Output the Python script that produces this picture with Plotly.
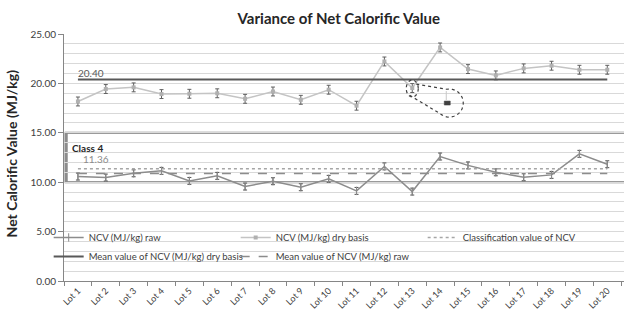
import numpy as np
import plotly.graph_objects as go

lots = [f"Lot {i}" for i in range(1, 21)]
lot_idx = list(range(1, 21))
ncv_raw = [10.57, 10.47, 10.90, 11.15, 10.13, 10.64, 9.56, 10.10, 9.49, 10.34,
           9.12, 11.60, 9.05, 12.60, 11.70, 11.00, 10.50, 10.74, 12.87, 11.82]
err_raw = [0.35] * 20
ncv_dry = [18.17, 19.43, 19.60, 18.92, 18.95, 19.00, 18.44, 19.18, 18.34, 19.36,
           17.74, 22.22, 19.53, 23.64, 21.45, 20.81, 21.52, 21.79, 21.38, 21.38]
err_dry = [0.45] * 20
mean_dry = 20.40
mean_raw = 10.87
class_value = 11.36
class4_range = [10, 15]
y_ticks = [0, 5, 10, 15, 20, 25]

FONT = "Lato"
fig = go.Figure()

fig.add_trace(go.Scatter(
    x=lot_idx, y=ncv_raw, name="NCV (MJ/kg) raw", mode="lines+markers",
    line=dict(color="#8c8c8c", width=1.5),
    marker=dict(symbol="line-ns-open", size=6, line=dict(color="#404040", width=1)),
    error_y=dict(type="data", array=err_raw, color="#505050", thickness=1, width=2)))
fig.add_trace(go.Scatter(
    x=lot_idx, y=ncv_dry, name="NCV (MJ/kg) dry basis", mode="lines+markers",
    line=dict(color="#c4c4c4", width=1.5),
    marker=dict(symbol="square", size=4, color="#b0b0b0"),
    error_y=dict(type="data", array=err_dry, color="#606060", thickness=1, width=2)))
fig.add_trace(go.Scatter(
    x=lot_idx, y=[class_value] * 20, name="Classification value of NCV", mode="lines",
    line=dict(color="#a6a6a6", width=1.5, dash="dot")))
fig.add_trace(go.Scatter(
    x=lot_idx, y=[mean_dry] * 20, name="Mean value of NCV (MJ/kg) dry basis", mode="lines",
    line=dict(color="#595959", width=2)))
fig.add_trace(go.Scatter(
    x=lot_idx, y=[mean_raw] * 20, name="Mean value of NCV (MJ/kg) raw", mode="lines",
    line=dict(color="#8c8c8c", width=1.5, dash="dash")))

shapes = []
# legend background hiding gridlines
shapes.append(dict(type="rect", xref="paper", yref="y", x0=0.003, x1=1, y0=1.45, y1=5.9,
                   fillcolor="white", line=dict(width=0), layer="between"))
# class 4 band
shapes.append(dict(type="rect", xref="paper", yref="y", x0=0.003, x1=1.01,
                   y0=class4_range[0], y1=class4_range[1],
                   line=dict(color="#7a7a7a", width=2), layer="between"))
shapes.append(dict(type="line", xref="paper", yref="y", x0=0.004, x1=0.004,
                   y0=class4_range[0], y1=class4_range[1],
                   line=dict(color="#8c8c8c", width=3), layer="between"))

# callout around Lot 13 dry-basis point
anchor_x, anchor_y = 13, ncv_dry[12]
cx, cy, R = 37, -15, 14
ang = np.radians(np.linspace(100, -130, 40))
pts = [(4, 4)] + [(cx + R * np.cos(a), cy + R * np.sin(a)) for a in ang] + [(-3, -7)]
path = "M " + " L ".join(f"{px:.1f},{py:.1f}" for px, py in pts)
shapes.append(dict(type="path", path=path, xref="x", yref="y",
                   xsizemode="pixel", ysizemode="pixel", xanchor=anchor_x, yanchor=anchor_y,
                   line=dict(color="#404040", width=1.2, dash="dot")))
shapes.append(dict(type="circle", xref="x", yref="y", xsizemode="pixel", ysizemode="pixel",
                   xanchor=anchor_x, yanchor=anchor_y, x0=-6, x1=6, y0=-9, y1=8,
                   line=dict(color="#404040", width=1.2, dash="dot")))
shapes.append(dict(type="line", xref="x", yref="y", xsizemode="pixel", ysizemode="pixel",
                   xanchor=anchor_x, yanchor=anchor_y, x0=34, x1=34, y0=-3, y1=-12,
                   line=dict(color="#c8c8c8", width=1)))
shapes.append(dict(type="rect", xref="x", yref="y", xsizemode="pixel", ysizemode="pixel",
                   xanchor=anchor_x, yanchor=anchor_y, x0=32, x1=38, y0=-17, y1=-13,
                   fillcolor="#404040", line=dict(color="#404040", width=0.5)))

annotations = [
    dict(text="<b>Net Calorific Value (MJ/kg)</b>", xref="paper", yref="paper", x=-0.094, y=0.518,
         textangle=-90, showarrow=False, font=dict(family=FONT, size=14, color="#262626"),
         xanchor="center", yanchor="middle"),
    dict(text=f"{mean_dry:.2f}", xref="x", yref="y", x=0.93, y=21.08, showarrow=False,
         xanchor="left", yanchor="middle", font=dict(family=FONT, size=10, color="#595959")),
    dict(text="<b>Class 4</b>", xref="x", yref="y", x=0.71, y=13.5, showarrow=False,
         xanchor="left", yanchor="middle", font=dict(family=FONT, size=10, color="#262626")),
    dict(text=f"{class_value:.2f}", xref="x", yref="y", x=1.11, y=12.35, showarrow=False,
         xanchor="left", yanchor="middle", font=dict(family=FONT, size=10, color="#8c8c8c")),
]

fig.update_layout(
    width=624, height=312,
    margin=dict(l=64, r=0, t=34, b=31, autoexpand=False),
    paper_bgcolor="white", plot_bgcolor="white",
    title=dict(text="<b>Variance of Net Calorific Value</b>", xref="container", yref="container",
               x=0.543, y=0.939, xanchor="center", yanchor="middle",
               font=dict(family=FONT, size=15, color="#262626")),
    font=dict(family=FONT, size=10, color="#404040"),
    showlegend=True,
    legend=dict(orientation="h", xref="container", x=0.078, y=0.235, xanchor="left", yanchor="top",
                bgcolor="rgba(0,0,0,0)", entrywidth=142, entrywidthmode="pixels",
                itemwidth=30, font=dict(family=FONT, size=9.5, color="#404040"),
                tracegroupgap=0),
    xaxis=dict(range=[0.5, 20.6], tickmode="array", tickvals=lot_idx, ticktext=lots,
               tickangle=-45, ticks="", showgrid=False, zeroline=False,
               showline=True, linecolor="#868686", linewidth=1,
               tickfont=dict(family=FONT, size=9, color="#404040"),
               minor=dict(tickmode="linear", tick0=0.5, dtick=1, ticks="outside",
                          ticklen=4, tickcolor="#868686", showgrid=False)),
    yaxis=dict(range=[0, 25], tickmode="array", tickvals=y_ticks,
               ticktext=[f"{v:.2f}" for v in y_ticks],
               ticks="outside", ticklen=5, tickcolor="#868686",
               showline=True, linecolor="#868686", linewidth=1,
               showgrid=True, gridcolor="#d9d9d9", gridwidth=1, zeroline=False,
               tickfont=dict(family=FONT, size=10, color="#404040"),
               minor=dict(dtick=1, showgrid=True, gridcolor="#d9d9d9", gridwidth=1, ticks="")),
    shapes=shapes, annotations=annotations,
)

fig.write_html("out.html", config={"displayModeBar": False},
               post_script="document.body.style.margin='0';")
